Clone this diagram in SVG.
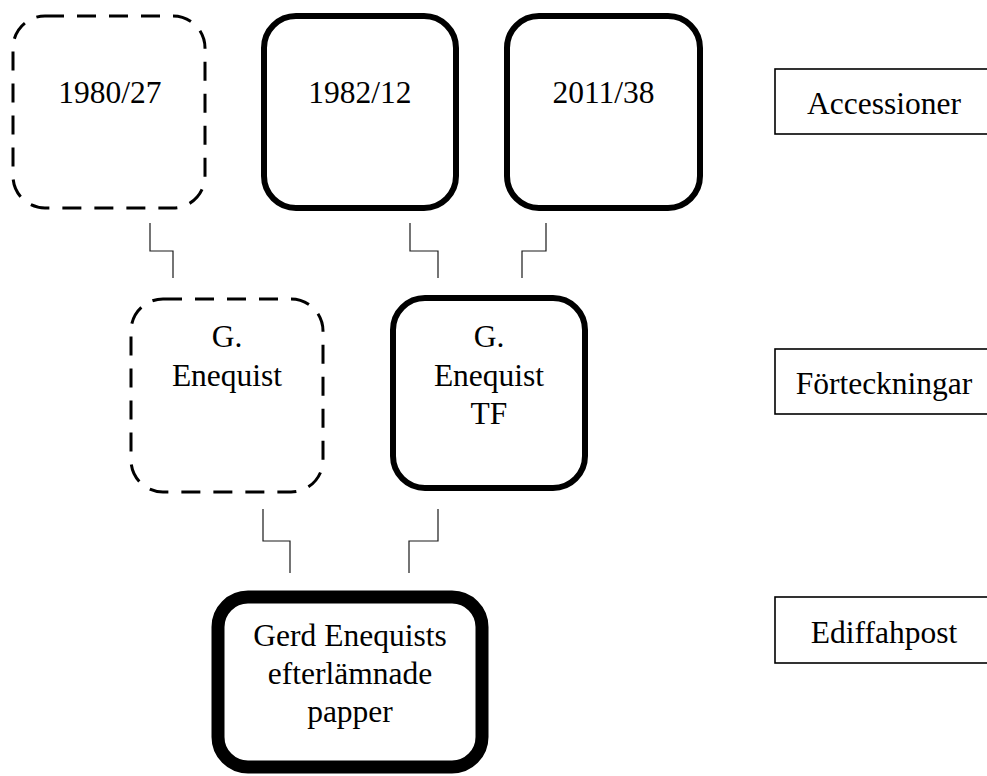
<svg xmlns="http://www.w3.org/2000/svg" width="987" height="776" viewBox="0 0 987 776">
<style>
text{font-family:"Liberation Serif","Times New Roman",serif;font-size:31.5px;fill:#000;text-anchor:middle}
.dash{fill:#fff;stroke:#000;stroke-width:3;stroke-dasharray:19 13}
.solid{fill:#fff;stroke:#000;stroke-width:6}
.heavy{fill:#fff;stroke:#000;stroke-width:13}
.label{fill:#fff;stroke:#000;stroke-width:1.6}
.conn{fill:none;stroke:#1a1a1a;stroke-width:1.2}
</style>
<rect width="987" height="776" fill="#fff"/>
<g id="connectors">
<polyline class="conn" points="150,223 150,251 173,251 173,278"/>
<polyline class="conn" points="410,223 410,251 438,251 438,278"/>
<polyline class="conn" points="546,223 546,251 522,251 522,278"/>
<polyline class="conn" points="263,509 263,541 290,541 290,573"/>
<polyline class="conn" points="438,509 438,541 409,541 409,573"/>
</g>
<g id="n1980">
<rect class="dash" x="13" y="16" width="192" height="192" rx="32"/>
<text x="110" y="103">1980/27</text>
</g>
<g id="n1982">
<rect class="solid" x="264" y="16" width="192" height="192" rx="32"/>
<text x="360" y="103">1982/12</text>
</g>
<g id="n2011">
<rect class="solid" x="507" y="16" width="193" height="192" rx="32"/>
<text x="603.5" y="103">2011/38</text>
</g>
<g id="nGE">
<rect class="dash" x="131" y="299" width="192" height="193" rx="32"/>
<text x="227" y="347">G.</text>
<text x="227" y="386">Enequist</text>
</g>
<g id="nGETF">
<rect class="solid" x="393" y="298" width="192" height="190" rx="32"/>
<text x="489" y="347">G.</text>
<text x="489" y="386">Enequist</text>
<text x="489" y="424">TF</text>
</g>
<g id="nGerd">
<rect class="heavy" x="218" y="597" width="264" height="170" rx="30"/>
<text x="350" y="646">Gerd Enequists</text>
<text x="350" y="684">efterlämnade</text>
<text x="350" y="722">papper</text>
</g>
<g id="lAcc">
<rect class="label" x="775" y="69" width="218" height="65"/>
<text x="884" y="114">Accessioner</text>
</g>
<g id="lFor">
<rect class="label" x="775" y="349" width="218" height="65"/>
<text x="884" y="394">Förteckningar</text>
</g>
<g id="lEdi">
<rect class="label" x="775" y="597" width="218" height="66"/>
<text x="884" y="643">Ediffahpost</text>
</g>
</svg>
